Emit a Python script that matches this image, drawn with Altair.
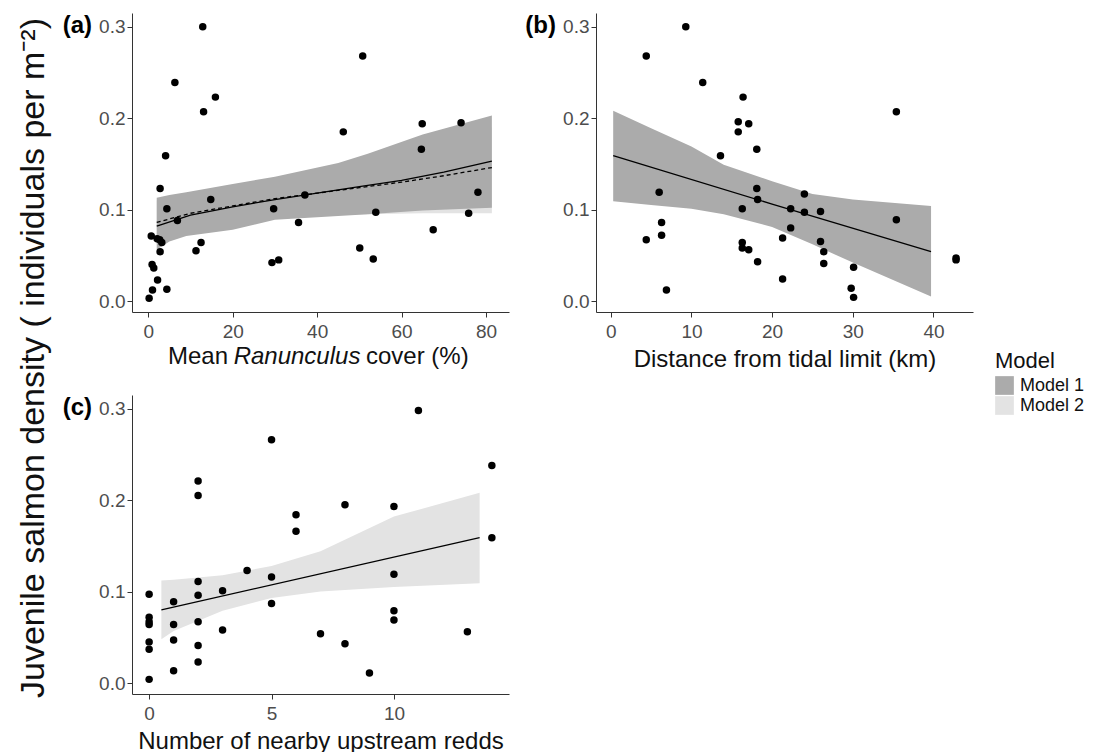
import altair as alt
import pandas as pd

FONT = "Liberation Sans"

# ---------------- data ----------------
# Panel (a): Mean Ranunculus cover (%)
a_cover = [12.9, 50.8, 6.3, 15.9, 13.1, 64.9, 74.1, 46.2, 4.1, 64.7, 2.8, 78.1, 14.8,
           37.1, 4.4, 29.7, 53.9, 75.9, 6.9, 35.6, 67.5, 0.7, 2.1, 2.7, 3.2, 12.5,
           11.3, 2.8, 50.1, 53.3, 29.3, 30.9, 0.9, 1.3, 2.2, 4.4, 1.0, 0.2]
a_density = [0.300, 0.268, 0.239, 0.223, 0.207, 0.194, 0.195, 0.185, 0.159, 0.166,
             0.123, 0.119, 0.111, 0.116, 0.101, 0.101, 0.097, 0.096, 0.088, 0.086,
             0.078, 0.071, 0.068, 0.067, 0.064, 0.064, 0.055, 0.054, 0.058, 0.046,
             0.042, 0.045, 0.040, 0.036, 0.023, 0.013, 0.012, 0.003]

a_band_x = [2, 5, 9, 20, 30, 45, 52, 65, 81.4]
a_m1_hi = [0.113, 0.116, 0.119, 0.128, 0.136, 0.151, 0.161, 0.182, 0.203]
a_m1_lo = [0.056, 0.065, 0.071, 0.078, 0.089, 0.093, 0.095, 0.099, 0.102]
a_m2_hi = [0.110, 0.113, 0.117, 0.125, 0.133, 0.146, 0.154, 0.170, 0.190]
a_m2_lo = [0.062, 0.068, 0.073, 0.080, 0.090, 0.094, 0.095, 0.096, 0.096]

a_line_x = [2, 10, 20, 30, 40, 50, 60, 70, 81.4]
a_m1_fit = [0.082, 0.094, 0.103, 0.111, 0.118, 0.125, 0.132, 0.141, 0.153]
a_m2_fit = [0.086, 0.096, 0.104, 0.112, 0.118, 0.124, 0.130, 0.137, 0.146]

# Panel (b): Distance from tidal limit (km)
b_dist = [9.3, 4.4, 11.4, 16.4, 35.4, 15.8, 17.1, 15.8, 18.1, 13.6, 6.0, 18.1, 24.0,
          18.2, 16.3, 22.3, 24.0, 26.0, 35.4, 6.3, 22.3, 6.3, 4.4, 21.3, 16.3, 26.0,
          16.3, 17.1, 26.4, 18.2, 26.4, 30.1, 21.3, 29.8, 6.9, 30.1, 42.8, 42.8]
b_density = [0.300, 0.268, 0.239, 0.223, 0.207, 0.196, 0.194, 0.185, 0.166, 0.159,
             0.119, 0.123, 0.117, 0.111, 0.101, 0.101, 0.097, 0.098, 0.089, 0.086,
             0.080, 0.072, 0.067, 0.069, 0.064, 0.065, 0.058, 0.056, 0.054, 0.043,
             0.041, 0.037, 0.024, 0.014, 0.012, 0.004, 0.047, 0.045]

b_band_x = [0.3, 5, 10, 14, 20, 25, 30, 39.7]
b_m1_hi = [0.208, 0.189, 0.169, 0.149, 0.131, 0.117, 0.111, 0.104]
b_m1_lo = [0.109, 0.105, 0.101, 0.095, 0.081, 0.062, 0.042, 0.005]
b_line_x = [0.3, 20, 39.7]
b_m1_fit = [0.159, 0.106, 0.054]

# Panel (c): Number of nearby upstream redds
c_redds = [11, 5, 14, 2, 2, 8, 10, 6, 6, 14, 4, 5, 10, 2, 3, 0, 2, 1, 5, 10, 10, 0, 0,
           0, 1, 2, 3, 7, 13, 0, 0, 1, 2, 8, 2, 1, 9, 0]
c_density = [0.298, 0.266, 0.238, 0.221, 0.205, 0.195, 0.193, 0.184, 0.166, 0.159,
             0.123, 0.116, 0.119, 0.111, 0.101, 0.097, 0.096, 0.089, 0.087, 0.079,
             0.069, 0.072, 0.067, 0.064, 0.064, 0.067, 0.058, 0.054, 0.056, 0.045,
             0.037, 0.047, 0.041, 0.043, 0.023, 0.0135, 0.011, 0.004]

c_band_x = [0.5, 1, 3, 5, 7, 10, 13.5]
c_m2_hi = [0.112, 0.113, 0.118, 0.128, 0.144, 0.182, 0.208]
c_m2_lo = [0.048, 0.057, 0.079, 0.093, 0.100, 0.105, 0.109]
c_line_x = [0.5, 13.5]
c_m2_fit = [0.080, 0.159]

models = ["Model 1", "Model 2"]
band_colors = ["#ABABAB", "#E3E3E3"]

# ---------------- helpers ----------------
W, H = 377, 299
YDOM = [-0.012, 0.315]
dummy = pd.DataFrame({"k": [0]})

color_scale = alt.Scale(domain=models, range=band_colors)
legend = alt.Legend(title="Model", orient="none", legendX=863, legendY=338,
                    symbolType="square", symbolSize=350, symbolStrokeWidth=0,
                    symbolOpacity=1)


def yaxis():
    return alt.Axis(values=[0, 0.1, 0.2, 0.3], format=".1f", title=None)


def xscale(dom):
    return alt.Scale(domain=dom, nice=False, zero=False)


def yscale():
    return alt.Scale(domain=YDOM, nice=False, zero=False)


def band(xs, lo, hi, model, dom, ticks, title):
    df = pd.DataFrame({"x": xs, "lo": lo, "hi": hi, "model": [model] * len(xs)})
    return alt.Chart(df).mark_area(opacity=1).encode(
        x=alt.X("x:Q", scale=xscale(dom), axis=alt.Axis(values=ticks, title=title)),
        y=alt.Y("hi:Q", scale=yscale(), axis=yaxis()),
        y2="lo:Q",
        color=alt.Color("model:N", scale=color_scale, legend=legend),
    )


def line(xs, ys, dom, dash=None):
    df = pd.DataFrame({"x": xs, "y": ys})
    kw = {"strokeDash": dash} if dash else {}
    return alt.Chart(df).mark_line(color="black", strokeWidth=1.3, **kw).encode(
        x=alt.X("x:Q", scale=xscale(dom)),
        y=alt.Y("y:Q", scale=yscale()),
    )


def points(xs, ys, dom):
    df = pd.DataFrame({"x": xs, "y": ys})
    return alt.Chart(df).mark_circle(size=56, color="black", opacity=1).encode(
        x=alt.X("x:Q", scale=xscale(dom)),
        y=alt.Y("y:Q", scale=yscale()),
    )


def label(text, x, y, **kw):
    return alt.Chart(dummy).mark_text(text=text, font=FONT, **kw).encode(
        x=alt.value(x), y=alt.value(y))


def tag(text):
    return label(text, -40, 13, align="right", baseline="middle", fontSize=24,
                 fontWeight="bold", color="black")


# ---------------- panel (a) ----------------
A_DOM = [-3.86, 85.46]
TS = 24  # axis title font size
# widths for "Mean Ranunculus cover (%)" centred on the panel
pa = alt.layer(
    band(a_band_x, a_m2_lo, a_m2_hi, "Model 2", A_DOM, [0, 20, 40, 60, 80], None),
    band(a_band_x, a_m1_lo, a_m1_hi, "Model 1", A_DOM, [0, 20, 40, 60, 80], None),
    line(a_line_x, a_m1_fit, A_DOM),
    line(a_line_x, a_m2_fit, A_DOM, dash=[4, 3]),
    points(a_cover, a_density, A_DOM),
    tag("(a)"),
    label("Mean", 96, H + 52, align="right", baseline="alphabetic", fontSize=TS, color="#111"),
    label("Ranunculus", 165, H + 52, align="center", baseline="alphabetic", fontSize=TS,
          fontStyle="italic", color="#111"),
    label("cover (%)", 234, H + 52, align="left", baseline="alphabetic", fontSize=TS, color="#111"),
    label("Juvenile salmon density ( individuals per m\u207b\u00b2)", -88, 345, angle=270,
          align="center", baseline="alphabetic", fontSize=34, color="#111"),
).properties(width=W, height=H)

# ---------------- panel (b) ----------------
B_DOM = [-1.83, 44.9]
pb = alt.layer(
    band(b_band_x, b_m1_lo, b_m1_hi, "Model 1", B_DOM, [0, 10, 20, 30, 40],
         "Distance from tidal limit (km)"),
    line(b_line_x, b_m1_fit, B_DOM),
    points(b_dist, b_density, B_DOM),
    tag("(b)"),
).properties(width=W, height=H)

# ---------------- panel (c) ----------------
C_DOM = [-0.7, 14.7]
pc = alt.layer(
    band(c_band_x, c_m2_lo, c_m2_hi, "Model 2", C_DOM, [0, 5, 10],
         "Number of nearby upstream redds"),
    line(c_line_x, c_m2_fit, C_DOM),
    points(c_redds, c_density, C_DOM),
    tag("(c)"),
).properties(width=W, height=H)

chart = alt.concat(
    pa, pb, pc, columns=2, spacing={"row": 83, "column": 87}, bounds="flush",
    padding={"left": 16, "top": 13, "right": 5, "bottom": 2},
).configure_view(stroke=None).configure_axis(
    grid=False, domainColor="#333333", domainWidth=1, tickColor="#333333", tickSize=5,
    labelFont=FONT, labelFontSize=19, labelColor="#4D4D4D",
    titleFont=FONT, titleFontSize=TS, titleFontWeight="normal", titleColor="#111111",
).configure_axisX(labelPadding=5, titlePadding=6).configure_axisY(labelPadding=2).configure_legend(
    titleFont=FONT, titleFontSize=22, titleFontWeight="normal", titleColor="#111111",
    labelFont=FONT, labelFontSize=18, labelColor="#111111", padding=0,
    titlePadding=3, rowPadding=1, labelOffset=6,
)

chart.save("out.html", embed_options={"renderer": "svg", "actions": False})
